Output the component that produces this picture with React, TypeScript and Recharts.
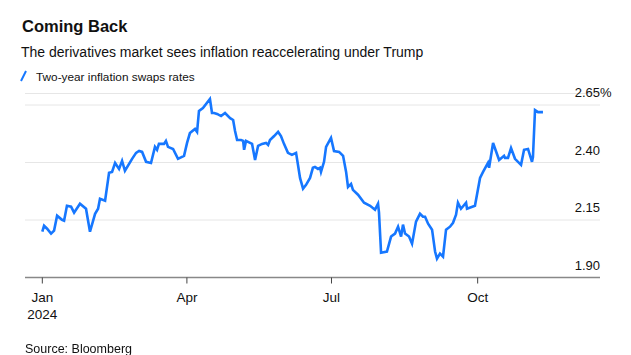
import { CartesianGrid, Line, LineChart, XAxis, YAxis } from 'recharts';

// days since Jan 1 2024
const dayOfYear = [
  0, 1.1, 3.0, 5.5, 7.4, 9.3, 12.4, 13.7, 15.5, 18.1,
  20.0, 23.7, 27.5, 30.0, 33.2, 35.1, 36.3, 39.5, 42.0, 43.9,
  45.8, 48.3, 50.2, 52.0, 56.5, 59.0, 60.9, 62.8, 65.3, 68.4,
  70.9, 72.2, 73.4, 76.6, 77.8, 79.1, 82.3, 85.4, 89.2, 91.1,
  92.9, 96.1, 97.4, 98.6, 101.1, 105.5, 106.8, 108.1, 110.0, 112.5,
  115.0, 118.2, 120.1, 121.3, 122.6, 125.1, 126.4, 127.0, 128.2, 132.0,
  133.9, 135.8, 138.3, 140.8, 142.1, 143.3, 145.9, 148.4, 150.2, 152.1,
  154.6, 157.1, 159.7, 160.9, 162.2, 164.1, 166.0, 168.5, 170.3, 171.6,
  173.5, 174.8, 175.4, 177.3, 178.6, 181.7, 183.6, 186.8, 189.3, 191.2,
  192.4, 194.3, 195.5, 198.7, 202.5, 206.3, 209.4, 211.3, 211.9, 213.2,
  216.9, 219.5, 222.0, 223.9, 225.8, 227.0, 228.3, 230.8, 232.7, 235.2,
  237.7, 239.6, 240.9, 242.8, 245.3, 247.2, 248.4, 250.3, 252.2, 254.1,
  256.6, 258.5, 260.4, 261.6, 263.5, 266.7, 267.3, 272.3, 275.5, 277.4,
  280.5, 281.2, 283.7, 287.5, 290.6, 291.2, 293.1, 295.0, 297.5, 301.3,
  303.2, 305.7, 308.2, 308.8, 310.1, 312.0, 315.1,
];

const swapRates = [
  2.099, 2.125, 2.112, 2.091, 2.104, 2.169, 2.151, 2.147, 2.212, 2.208,
  2.182, 2.221, 2.199, 2.099, 2.177, 2.199, 2.242, 2.234, 2.355, 2.359,
  2.398, 2.372, 2.407, 2.364, 2.416, 2.442, 2.450, 2.446, 2.403, 2.398,
  2.468, 2.455, 2.481, 2.481, 2.494, 2.468, 2.459, 2.416, 2.429, 2.485,
  2.528, 2.546, 2.533, 2.624, 2.637, 2.676, 2.615, 2.615, 2.611, 2.602,
  2.615, 2.593, 2.585, 2.537, 2.498, 2.498, 2.494, 2.455, 2.494, 2.481,
  2.411, 2.472, 2.481, 2.485, 2.476, 2.498, 2.515, 2.533, 2.515, 2.481,
  2.442, 2.433, 2.442, 2.390, 2.333, 2.286, 2.303, 2.333, 2.377, 2.381,
  2.372, 2.377, 2.359, 2.403, 2.468, 2.507, 2.450, 2.446, 2.429, 2.359,
  2.294, 2.307, 2.281, 2.260, 2.225, 2.212, 2.195, 2.221, 2.182, 2.008,
  2.013, 2.078, 2.091, 2.121, 2.078, 2.130, 2.091, 2.078, 2.047, 2.143,
  2.177, 2.164, 2.164, 2.134, 2.108, 2.013, 1.982, 2.004, 1.991, 2.108,
  2.121, 2.138, 2.173, 2.225, 2.199, 2.225, 2.199, 2.212, 2.333, 2.359,
  2.398, 2.377, 2.485, 2.411, 2.429, 2.420, 2.420, 2.463, 2.416, 2.390,
  2.455, 2.459, 2.403, 2.424, 2.628, 2.619, 2.619,
];

const monthTicks = [0, 91, 182, 274];
const monthLabels = ['Jan', 'Apr', 'Jul', 'Oct'];
const rateTicks = [1.9, 2.15, 2.4, 2.65];

const data = dayOfYear.map((day, i) => ({ day, rate: swapRates[i] }));

const FONT = '"Liberation Sans", Arial, Helvetica, sans-serif';
const BLUE = '#1677ff';

const MonthTick = (props: any) => {
  const { x, payload } = props;
  const i = monthTicks.indexOf(payload.value);
  return (
    <g>
      <text x={x} y={302} textAnchor="middle" fontSize={13.5} fill="#111" fontFamily={FONT}>
        {monthLabels[i]}
      </text>
      {i === 0 && (
        <text x={x} y={319} textAnchor="middle" fontSize={13.5} fill="#111" fontFamily={FONT}>
          2024
        </text>
      )}
    </g>
  );
};

const RateTick = (props: any) => {
  const { y, payload } = props;
  const value = Number(payload.value);
  const top = value === rateTicks[rateTicks.length - 1];
  return (
    <g>
      <text x={600} y={y - 8} textAnchor="end" fontSize={13} fill="#111" fontFamily={FONT}>
        {value.toFixed(2)}
      </text>
      {top && (
        <text x={600} y={y - 8} textAnchor="start" fontSize={13} fill="#111" fontFamily={FONT}>
          %
        </text>
      )}
    </g>
  );
};

export default function App() {
  return (
    <div
      style={{
        position: 'fixed',
        left: 0,
        top: 0,
        width: 631,
        height: 355,
        background: '#fff',
        fontFamily: FONT,
        color: '#111',
      }}
    >
      <div style={{ position: 'absolute', left: 22, top: 18, fontSize: 16.5, lineHeight: '16.5px', fontWeight: 700 }}>
        Coming Back
      </div>
      <div style={{ position: 'absolute', left: 21, top: 44.8, fontSize: 14, lineHeight: '14px' }}>
        The derivatives market sees inflation reaccelerating under Trump
      </div>
      <svg style={{ position: 'absolute', left: 0, top: 0 }} width={40} height={90}>
        <line x1={21} y1={81} x2={26} y2={71} stroke={BLUE} strokeWidth={2} />
      </svg>
      <div style={{ position: 'absolute', left: 36, top: 70.5, fontSize: 11.8, lineHeight: '13px' }}>
        Two-year inflation swaps rates
      </div>

      <div style={{ position: 'absolute', left: 0, top: 0 }}>
        <LineChart
          width={631}
          height={355}
          data={data}
          margin={{ top: 93.5, right: 1, bottom: 37.5, left: 25 }}
        >
          <CartesianGrid vertical={false} stroke="#e6e6e6" strokeWidth={1} />
          <XAxis
            dataKey="day"
            type="number"
            domain={[-10.9, 351]}
            ticks={monthTicks}
            height={40}
            axisLine={{ stroke: '#888', strokeWidth: 1.5 }}
            tickLine={{ stroke: '#444' }}
            tickSize={6}
            tick={<MonthTick />}
            interval={0}
            allowDataOverflow
          />
          <YAxis
            orientation="right"
            width={30}
            domain={[1.9, 2.7]}
            ticks={rateTicks}
            axisLine={false}
            tickLine={false}
            tick={<RateTick />}
            interval={0}
            allowDataOverflow
          />
          <Line
            type="linear"
            dataKey="rate"
            stroke={BLUE}
            strokeWidth={2.6}
            dot={false}
            isAnimationActive={false}
          />
        </LineChart>
      </div>

      <div style={{ position: 'absolute', left: 25, top: 342.5, fontSize: 12.5, lineHeight: '13px' }}>
        Source: Bloomberg
      </div>
    </div>
  );
}
